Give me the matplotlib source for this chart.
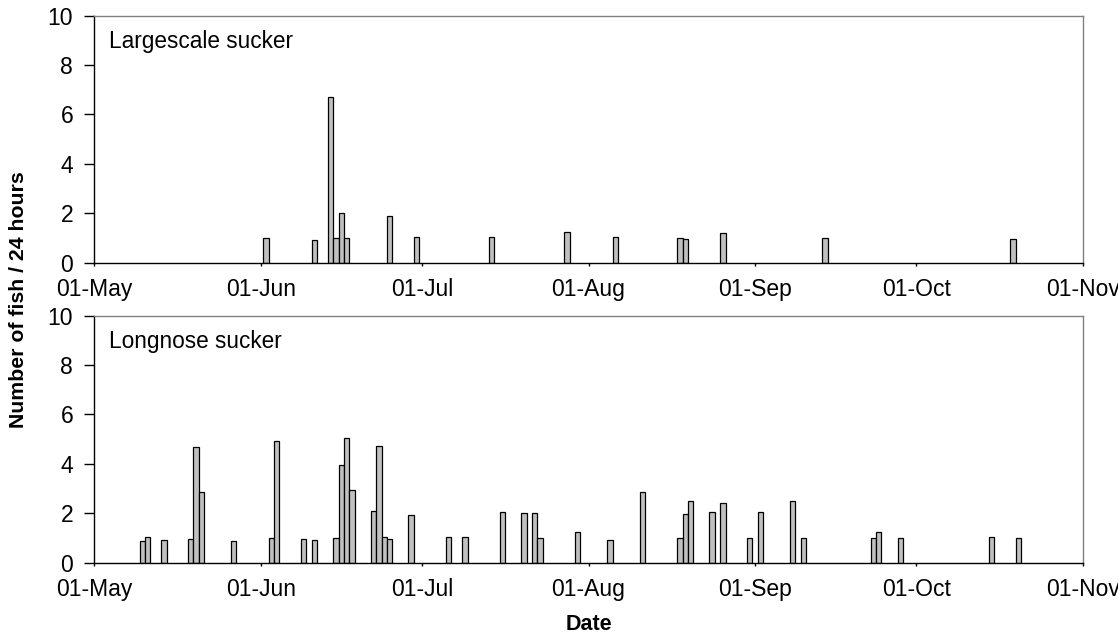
import matplotlib
matplotlib.use("Agg")
import matplotlib.pyplot as plt
import matplotlib.dates as mdates
import numpy as np

plt.rcParams['font.family'] = ['Liberation Sans', 'DejaVu Sans']

YEAR = "2001"

# Largescale sucker
ls_dates = ["06-02", "06-11", "06-14", "06-15", "06-16", "06-17", "06-25", "06-30",
            "07-14", "07-28", "08-06", "08-18", "08-19", "08-26", "09-14", "10-19"]
ls_values = [1.0, 0.93, 6.69, 1.0, 1.99, 1.0, 1.88, 1.05,
             1.04, 1.23, 1.03, 1.0, 0.97, 1.19, 1.0, 0.97]

# Longnose sucker
ln_dates = ["05-10", "05-11", "05-14", "05-19", "05-20", "05-21", "05-27",
            "06-03", "06-04", "06-09", "06-11", "06-15", "06-16", "06-17", "06-18",
            "06-22", "06-23", "06-24", "06-25", "06-29",
            "07-06", "07-09", "07-16", "07-20", "07-22", "07-23", "07-30",
            "08-05", "08-11", "08-18", "08-19", "08-20", "08-24", "08-26", "08-31",
            "09-02", "09-08", "09-10", "09-23", "09-24", "09-28",
            "10-15", "10-20"]
ln_values = [0.88, 1.04, 0.91, 0.96, 4.66, 2.85, 0.89,
             1.0, 4.92, 0.95, 0.93, 1.01, 3.96, 5.03, 2.95,
             2.07, 4.73, 1.05, 0.96, 1.93,
             1.05, 1.03, 2.03, 1.99, 2.01, 1.01, 1.22,
             0.91, 2.85, 1.01, 1.97, 2.51, 2.04, 2.41, 1.01,
             2.04, 2.51, 1.01, 0.99, 1.23, 1.01,
             1.03, 1.0]

panel_titles = ["Largescale sucker", "Longnose sucker"]
month_ticks = ["05-01", "06-01", "07-01", "08-01", "09-01", "10-01", "11-01"]
y_ticks = [0, 2, 4, 6, 8, 10]

def to_num(md):
    return mdates.datestr2num([f"{YEAR}-{d}" for d in md])

W, H = 1118, 636
fig = plt.figure(figsize=(W / 100, H / 100), dpi=100)

left = 94 / W
width = (1083 - 94) / W
h = (262.5 - 15.7) / H
ax1 = fig.add_axes([left, 1 - 262.5 / H, width, h])
ax2 = fig.add_axes([left, 1 - 562.5 / H, width, h])

xticks = to_num(month_ticks)
for ax, dates, vals, title in [(ax1, ls_dates, ls_values, panel_titles[0]),
                                (ax2, ln_dates, ln_values, panel_titles[1])]:
    ax.bar(to_num(dates), vals, width=1.0, color='#C0C0C0',
           edgecolor='black', linewidth=0.9, align='center')
    ax.set_xlim(xticks[0], xticks[-1])
    ax.set_ylim(0, 10)
    ax.set_yticks(y_ticks)
    ax.set_xticks(xticks)
    ax.xaxis.set_major_formatter(mdates.DateFormatter('%d-%b'))
    ax.tick_params(axis='both', labelsize=16.5, direction='out', color='black')
    ax.tick_params(axis='x', length=2.5, width=1, pad=9)
    ax.tick_params(axis='y', length=7, width=1, pad=8)
    for s in ['left', 'bottom']:
        ax.spines[s].set_color('black')
        ax.spines[s].set_linewidth(1.0)
    for s in ['top', 'right']:
        ax.spines[s].set_color('#808080')
        ax.spines[s].set_linewidth(1.0)
    ax.text(0.0152, 0.871, title, transform=ax.transAxes, fontsize=16.3,
            ha='left', va='baseline')

fig.text(18.5 / W, 1 - 300 / H, "Number of fish / 24 hours", rotation=90,
         fontsize=15.3, fontweight='bold', ha='center', va='center')
fig.text(588.5 / W, 1 - 624 / H, "Date", fontsize=15.5, fontweight='bold',
         ha='center', va='center')

fig.savefig("out.png", dpi=100)
